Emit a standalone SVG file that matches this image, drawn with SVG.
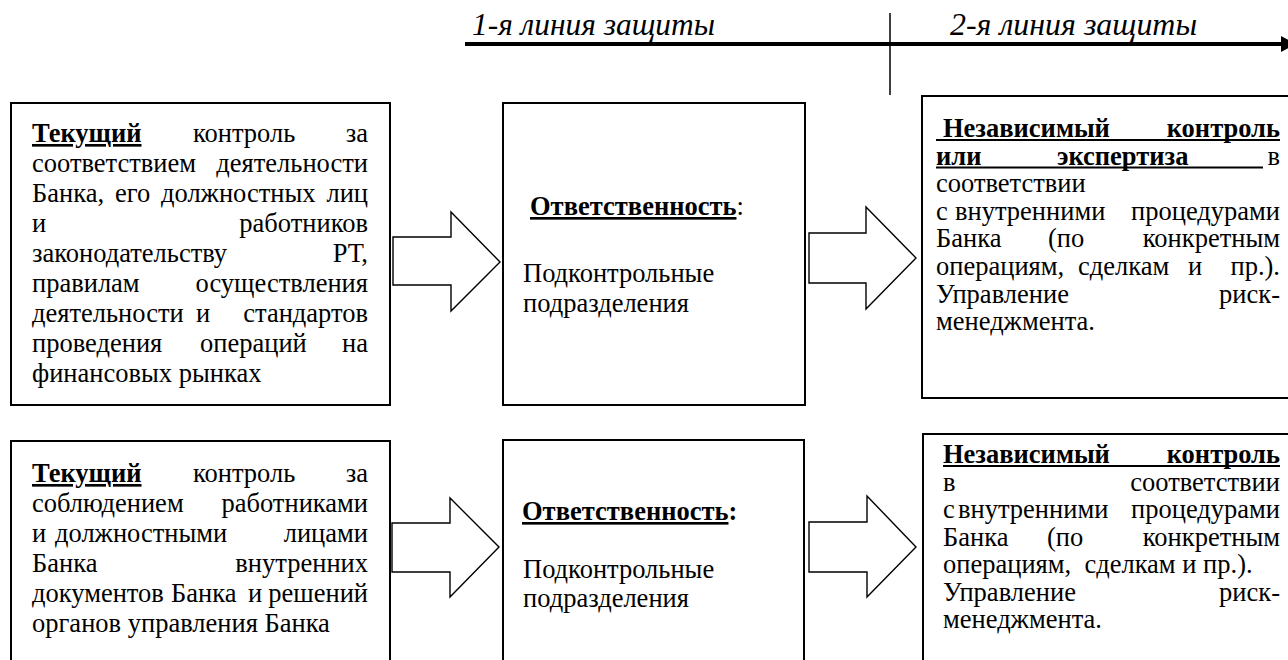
<svg xmlns="http://www.w3.org/2000/svg" width="1288" height="660" viewBox="0 0 1288 660">
<style>
.box{fill:#fff;stroke:#000;stroke-width:2}
.arr{fill:#fff;stroke:#000;stroke-width:1.4;stroke-linejoin:miter}
text{font-family:"Liberation Serif","Times New Roman",serif;font-size:26.5px;fill:#000}
.b{font-weight:bold}
.u{text-decoration:underline}
.e{text-anchor:end}
.lbl{font-style:italic;font-size:31px}
.ul{stroke:#000;stroke-width:2}
</style>
<rect width="1288" height="660" fill="#fff"/>
<g id="timeline">
<line x1="465" y1="44" x2="1283" y2="44" stroke="#000" stroke-width="4"/>
<polygon points="1281,36 1281,52 1296,44" fill="#000"/>
<line x1="890" y1="13" x2="890" y2="95" stroke="#000" stroke-width="1.5"/>
<text class="lbl" x="472" y="35" textLength="243" lengthAdjust="spacingAndGlyphs">1-я линия защиты</text>
<text class="lbl" x="950" y="35" textLength="247" lengthAdjust="spacingAndGlyphs">2-я линия защиты</text>
</g>
<g id="connectors">
<polygon class="arr" points="393,237 451,237 451,212 500,262 451,311 451,285 393,285"/>
<polygon class="arr" points="809,233 866,233 866,207 916,258 866,309 866,283 809,283"/>
<polygon class="arr" points="392,523 450,523 450,498 499,547 450,597 450,572 392,572"/>
<polygon class="arr" points="809,522 867,522 867,496 916,547 867,597 867,572 809,572"/>
</g>
<g id="box1">
<rect class="box" x="11" y="103" width="379" height="302"/>
<text x="32" y="142"><tspan class="b u">Текущий</tspan></text>
<text x="193" y="142">контроль</text>
<text class="e" x="368" y="142">за</text>
<text x="32" y="172">соответствием</text>
<text class="e" x="368" y="172">деятельности</text>
<text x="32" y="202">Банка,</text>
<text x="115" y="202">его</text>
<text x="161" y="202">должностных</text>
<text class="e" x="368" y="202">лиц</text>
<text x="32" y="232">и</text>
<text class="e" x="368" y="232">работников</text>
<text x="32" y="262">законодательству</text>
<text class="e" x="368" y="262">РТ,</text>
<text x="32" y="292">правилам</text>
<text class="e" x="368" y="292">осуществления</text>
<text x="32" y="322">деятельности</text>
<text x="196" y="322">и</text>
<text class="e" x="368" y="322">стандартов</text>
<text x="32" y="352">проведения</text>
<text x="200" y="352">операций</text>
<text class="e" x="368" y="352">на</text>
<text x="32" y="382">финансовых рынках</text>
</g>
<g id="box2">
<rect class="box" x="503" y="103" width="302" height="302"/>
<text x="530" y="215"><tspan class="b u">Ответственность</tspan>:</text>
<text x="523" y="282">Подконтрольные</text>
<text x="523" y="312">подразделения</text>
</g>
<g id="box3">
<rect class="box" x="922" y="96" width="400" height="302"/>
<line class="ul" x1="936" y1="140" x2="1280" y2="140"/>
<text class="b" x="943" y="137">Независимый</text>
<text class="b e" x="1280" y="137">контроль</text>
<line class="ul" x1="936" y1="167.5" x2="1263" y2="167.5"/>
<text class="b" x="936" y="164.5">или</text>
<text class="b" x="1057" y="164.5">экспертиза</text>
<text class="e" x="1280" y="164.5">в</text>
<text x="936" y="192">соответствии</text>
<text x="936" y="219.5">с</text>
<text x="955" y="219.5">внутренними</text>
<text class="e" x="1280" y="219.5">процедурами</text>
<text x="936" y="247">Банка</text>
<text x="1048" y="247">(по</text>
<text class="e" x="1280" y="247">конкретным</text>
<text x="936" y="275">операциям,</text>
<text x="1078" y="275">сделкам</text>
<text x="1188" y="275">и</text>
<text class="e" x="1280" y="275">пр.).</text>
<text x="936" y="302.5">Управление</text>
<text class="e" x="1280" y="302.5">риск-</text>
<text x="936" y="330">менеджмента.</text>
</g>
<g id="box4">
<rect class="box" x="11" y="441" width="379" height="260"/>
<text x="32" y="482"><tspan class="b u">Текущий</tspan></text>
<text x="193" y="482">контроль</text>
<text class="e" x="368" y="482">за</text>
<text x="32" y="512">соблюдением</text>
<text class="e" x="368" y="512">работниками</text>
<text x="32" y="542">и</text>
<text x="55" y="542">должностными</text>
<text class="e" x="368" y="542">лицами</text>
<text x="32" y="572">Банка</text>
<text class="e" x="368" y="572">внутренних</text>
<text x="32" y="602">документов</text>
<text x="171" y="602">Банка</text>
<text x="248" y="602">и</text>
<text class="e" x="368" y="602">решений</text>
<text x="32" y="632">органов управления Банка</text>
</g>
<g id="box5">
<rect class="box" x="503" y="440" width="301" height="260"/>
<text class="b" x="522" y="520"><tspan class="u">Ответственность</tspan>:</text>
<text x="523" y="578">Подконтрольные</text>
<text x="523" y="607">подразделения</text>
</g>
<g id="box6">
<rect class="box" x="923" y="434" width="400" height="260"/>
<line class="ul" x1="943" y1="466" x2="1280" y2="466"/>
<text class="b" x="943" y="463">Независимый</text>
<text class="b e" x="1280" y="463">контроль</text>
<text x="943" y="490.5">в</text>
<text class="e" x="1280" y="490.5">соответствии</text>
<text x="943" y="518">с</text>
<text x="958" y="518">внутренними</text>
<text class="e" x="1280" y="518">процедурами</text>
<text x="943" y="545.5">Банка</text>
<text x="1047" y="545.5">(по</text>
<text class="e" x="1280" y="545.5">конкретным</text>
<text x="943" y="573" xml:space="preserve">операциям,  сделкам и пр.).</text>
<text x="943" y="600.5">Управление</text>
<text class="e" x="1280" y="600.5">риск-</text>
<text x="943" y="628">менеджмента.</text>
</g>
</svg>
